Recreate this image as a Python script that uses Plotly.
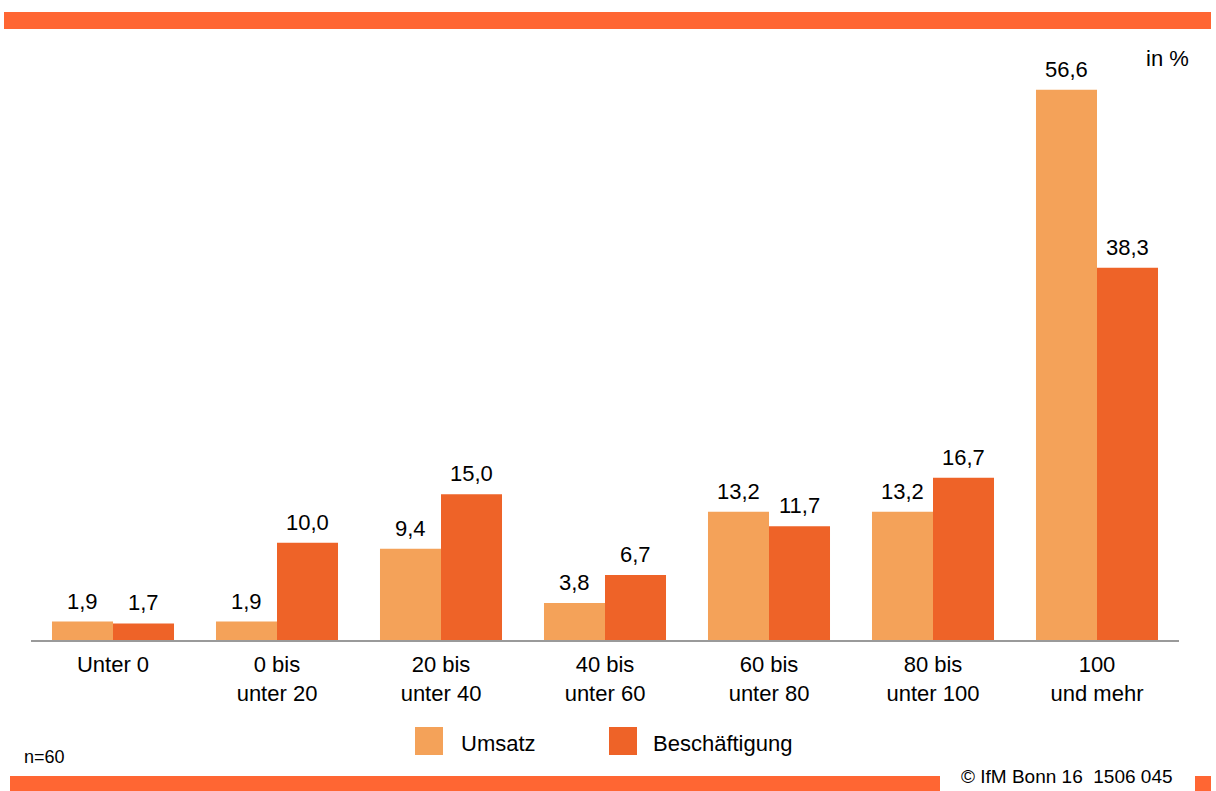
import plotly.graph_objects as go

categories = ["Unter 0", "0 bis<br>unter 20", "20 bis<br>unter 40", "40 bis<br>unter 60",
              "60 bis<br>unter 80", "80 bis<br>unter 100", "100<br>und mehr"]
umsatz = [1.9, 1.9, 9.4, 3.8, 13.2, 13.2, 56.6]
beschaeftigung = [1.7, 10.0, 15.0, 6.7, 11.7, 16.7, 38.3]

C_UMS = "#F4A259"
C_BES = "#EE6328"
C_BAR = "#FF6633"
FONT = "Liberation Sans, Arial, sans-serif"
FS = 22

W, H = 1216, 791
L, R, T, B = 31, 37, 40, 151
PW, PH = W - L - R, H - T - B
BARGAP = 0.256
BAR_W = PW / len(categories) * (1 - BARGAP) / 2

def px(x):
    return (x - L) / PW

def py(y):
    return (H - B - y) / PH

fig = go.Figure()
fig.add_trace(go.Bar(x=categories, y=umsatz, name="Umsatz", marker=dict(color=C_UMS, line=dict(width=0))))
fig.add_trace(go.Bar(x=categories, y=beschaeftigung, name="Beschäftigung", marker=dict(color=C_BES, line=dict(width=0))))

shapes = [
    dict(type="rect", xref="paper", yref="paper", x0=px(4), x1=px(1211), y0=py(29), y1=py(12),
         fillcolor=C_BAR, line=dict(width=0)),
    dict(type="rect", xref="paper", yref="paper", x0=px(10), x1=px(940), y0=py(791), y1=py(776),
         fillcolor=C_BAR, line=dict(width=0)),
    dict(type="rect", xref="paper", yref="paper", x0=px(1195), x1=px(1211), y0=py(791), y1=py(776),
         fillcolor=C_BAR, line=dict(width=0)),
    dict(type="rect", xref="paper", yref="paper", x0=px(415), x1=px(443), y0=py(755), y1=py(727),
         fillcolor=C_UMS, line=dict(width=0)),
    dict(type="rect", xref="paper", yref="paper", x0=px(609), x1=px(637), y0=py(755), y1=py(727),
         fillcolor=C_BES, line=dict(width=0)),
]

annotations = []
for vals, shift in ((umsatz, -BAR_W / 2), (beschaeftigung, BAR_W / 2)):
    for c, v in zip(categories, vals):
        annotations.append(dict(
            x=c, y=v, xref="x", yref="y", text=f"{v:.1f}".replace(".", ","),
            xshift=shift, yshift=6, xanchor="center", yanchor="bottom", showarrow=False,
            font=dict(size=FS, color="#000", family=FONT)))

annotations += [
    dict(text="in %", x=px(1191), y=py(58), xref="paper", yref="paper", xanchor="right", yanchor="middle",
         showarrow=False, font=dict(size=FS, color="#000", family=FONT)),
    dict(text="Umsatz", x=px(459), y=py(743), xref="paper", yref="paper", xanchor="left", yanchor="middle",
         showarrow=False, font=dict(size=FS, color="#000", family=FONT)),
    dict(text="Beschäftigung", x=px(651), y=py(743), xref="paper", yref="paper", xanchor="left", yanchor="middle",
         showarrow=False, font=dict(size=FS, color="#000", family=FONT)),
    dict(text="n=60", x=px(22), y=py(757), xref="paper", yref="paper", xanchor="left", yanchor="middle",
         showarrow=False, font=dict(size=18, color="#000", family=FONT)),
    dict(text="© IfM Bonn 16  1506 045", x=px(1175), y=py(776), xref="paper", yref="paper", xanchor="right",
         yanchor="middle", showarrow=False, font=dict(size=19, color="#000", family=FONT)),
]

fig.update_layout(
    width=W, height=H,
    margin=dict(l=L, r=R, t=T, b=B, pad=0),
    paper_bgcolor="white", plot_bgcolor="white",
    barmode="group", bargap=BARGAP, bargroupgap=0,
    separators=",.",
    showlegend=False,
    font=dict(family=FONT, size=FS, color="#000"),
    shapes=shapes, annotations=annotations,
    xaxis=dict(showline=True, linecolor="#9a9a9a", linewidth=2, showgrid=False, ticks="",
               ticklabelstandoff=4,
               tickfont=dict(size=FS, color="#000", family=FONT), fixedrange=True),
    yaxis=dict(range=[0, PH / 9.72], visible=False, showgrid=False, zeroline=False, fixedrange=True),
)

fig.write_html("out.html", config={"displayModeBar": False},
               post_script="document.body.style.margin='0';document.body.style.overflow='hidden';")
